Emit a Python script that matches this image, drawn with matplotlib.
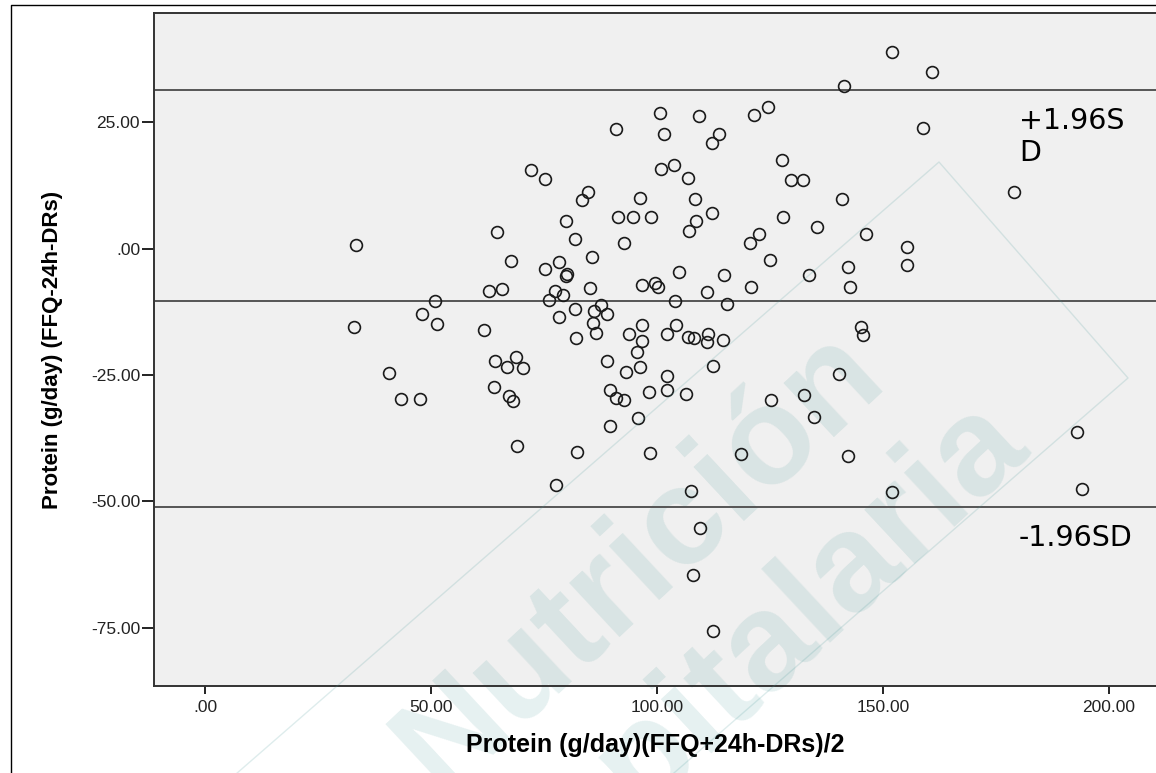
import matplotlib
matplotlib.use('Agg')
from matplotlib import pyplot as plt
from matplotlib.lines import Line2D


#data:
avg_protein  = [72.1, 75.2, 84.7, 83.4, 79.9, 64.6, 33.4, 81.9, 85.6, 67.7,
                78.3, 75.2, 80.1, 79.9, 62.8, 65.7, 85.2, 77.4, 79.2, 76.1,
                50.9, 48.0, 51.3, 33.0, 61.7, 78.3, 81.9, 86.1, 85.8, 86.5,
                82.1, 64.2, 68.8, 66.8, 70.4, 40.7, 63.9, 67.3, 68.1, 43.4,
                47.6, 69.0, 82.3,
                100.7, 109.3, 121.5, 124.6, 90.9, 101.5, 113.7, 112.2, 127.7, 100.9,
                103.8, 106.9, 129.6, 132.3, 96.2, 108.4, 140.9, 91.4, 94.7, 98.7,
                108.6, 112.2, 107.1, 127.9, 135.4, 92.7, 122.6, 120.6, 125.0, 146.2,
                104.9, 114.8, 142.3, 133.6, 96.7, 99.6, 100.2, 111.1, 120.8, 142.7,
                104.0, 115.5, 87.6, 88.9, 96.7, 93.8, 104.2, 102.2, 96.7, 106.9,
                108.2, 111.3, 111.1, 114.6, 95.6, 88.9, 96.2, 93.1, 112.4, 102.2,
                145.1, 145.6, 140.3, 89.6, 90.9, 92.7, 98.2, 102.2, 106.4, 132.5,
                125.2, 134.7, 95.8, 89.6, 98.5, 118.6, 142.3,
                77.7, 107.5, 109.5, 108.0, 112.4,
                152.0, 160.8, 141.4, 158.8, 179.0, 155.3, 155.3, 192.9, 152.0, 194.0]
diff_protein = [15.6, 13.8, 11.2, 9.6, 5.5, 3.3, 0.7, 1.9, -1.7, -2.5,
                -2.7, -4.0, -5.0, -5.4, -8.4, -8.0, -7.8, -8.4, -9.2, -10.2,
                -10.4, -12.9, -14.9, -15.5, -16.1, -13.5, -12.0, -12.3, -14.7, -16.7,
                -17.7, -22.2, -21.4, -23.4, -23.6, -24.6, -27.4, -29.2, -30.2, -29.8,
                -29.8, -39.1, -40.2,
                26.8, 26.2, 26.4, 28.0, 23.7, 22.7, 22.7, 20.9, 17.5, 15.7,
                16.5, 14.0, 13.6, 13.6, 10.0, 9.8, 9.8, 6.3, 6.3, 6.3,
                5.5, 7.0, 3.5, 6.3, 4.3, 1.1, 2.9, 1.1, -2.3, 2.9,
                -4.6, -5.2, -3.6, -5.2, -7.2, -6.8, -7.6, -8.6, -7.6, -7.6,
                -10.4, -11.0, -11.2, -12.9, -15.1, -16.9, -15.1, -16.9, -18.3, -17.5,
                -17.7, -16.9, -18.5, -18.0, -20.5, -22.2, -23.4, -24.4, -23.2, -25.2,
                -15.5, -17.1, -24.8, -28.0, -29.6, -30.0, -28.4, -28.0, -28.8, -29.0,
                -30.0, -33.3, -33.5, -35.1, -40.4, -40.6, -41.0,
                -46.8, -48.0, -55.3, -64.6, -75.7,
                38.9, 34.9, 32.2, 23.9, 11.2, 0.3, -3.2, -36.3, -48.2, -47.6]

mean_diff = -10.3   #mean difference
upper_loa = 31.4    #+1.96 SD
lower_loa = -51.1   #-1.96 SD

xticks       = [0, 50, 100, 150, 200]
xtick_labels = ['.00', '50.00', '100.00', '150.00', '200.00']
yticks       = [25, 0, -25, -50, -75]
ytick_labels = ['25.00', '.00', '-25.00', '-50.00', '-75.00']

W, H = 1156, 773



#plot:
plt.close('all')
fig = plt.figure(figsize=(W/100, H/100), dpi=100)
ax  = fig.add_axes([154/W, 1-686/H, 1-154/W, (686-13)/H])
ax.set_facecolor('#f0f0f0')

for v in (upper_loa, mean_diff, lower_loa):
    ax.axhline(v, color='#555555', lw=1.4, zorder=2)

ax.plot(avg_protein, diff_protein, ls='none', marker='o', ms=8.5,
        mfc='none', mec='#1a1a1a', mew=1.2, zorder=4)

ax.set_xlim(-11.3, 210.4)
ax.set_ylim(-86.5, 46.6)
ax.set_xticks(xticks)
ax.set_xticklabels(xtick_labels)
ax.set_yticks(yticks)
ax.set_yticklabels(ytick_labels)
ax.tick_params(axis='both', colors='#222222', labelsize=12.5, width=1.4)
ax.tick_params(axis='y', length=9, pad=1)
ax.tick_params(axis='x', length=6, pad=4)
for lab in ax.get_xticklabels() + ax.get_yticklabels():
    lab.set_family('Liberation Sans')
ax.spines['right'].set_visible(False)
for s in ('left', 'top', 'bottom'):
    ax.spines[s].set_color('#333333')
    ax.spines[s].set_linewidth(1.4)

ax.set_xlabel('Protein (g/day)(FFQ+24h-DRs)/2', size=18, weight='bold',
              family='Liberation Sans', va='center')
ax.xaxis.set_label_coords(0.5, -0.088)
ax.set_ylabel('Protein (g/day) (FFQ-24h-DRs)', size=16, weight='bold',
              family='Liberation Sans', va='center')
ax.yaxis.set_label_coords(-0.101, 0.5)

ax.text(180.1, 28.0, '+1.96S\nD', size=20.5, family='DejaVu Sans',
        ha='left', va='top', linespacing=1.2, zorder=5)
ax.text(179.9, -58.8, '-1.96SD', size=20.5, family='DejaVu Sans',
        ha='left', va='baseline', zorder=5)

#journal watermark:
wm = '#4a9a9a'
ax.text(640/W, 1-560/H, 'Nutrición', transform=fig.transFigure, size=100,
        weight='bold', family='Liberation Sans', color=wm, alpha=0.14,
        rotation=43, rotation_mode='anchor', ha='center', va='center',
        clip_on=False, zorder=1)
ax.text(715/W, 1-692/H, 'Hospitalaria', transform=fig.transFigure, size=100,
        weight='bold', family='Liberation Sans', color=wm, alpha=0.14,
        rotation=43, rotation_mode='anchor', ha='center', va='center',
        clip_on=False, zorder=1)
box_px = [(97, 895), (939, 162), (1128, 378), (336, 1067)]
fig.add_artist(Line2D([p[0]/W for p in box_px], [1-p[1]/H for p in box_px],
                      transform=fig.transFigure, color=wm, alpha=0.18, lw=1))

#outer frame:
fig.add_artist(Line2D([11/W, 11/W, 1], [0, 1-5/H, 1-5/H],
                      transform=fig.transFigure, color='black', lw=1))

fig.savefig('out.png', dpi=100)
